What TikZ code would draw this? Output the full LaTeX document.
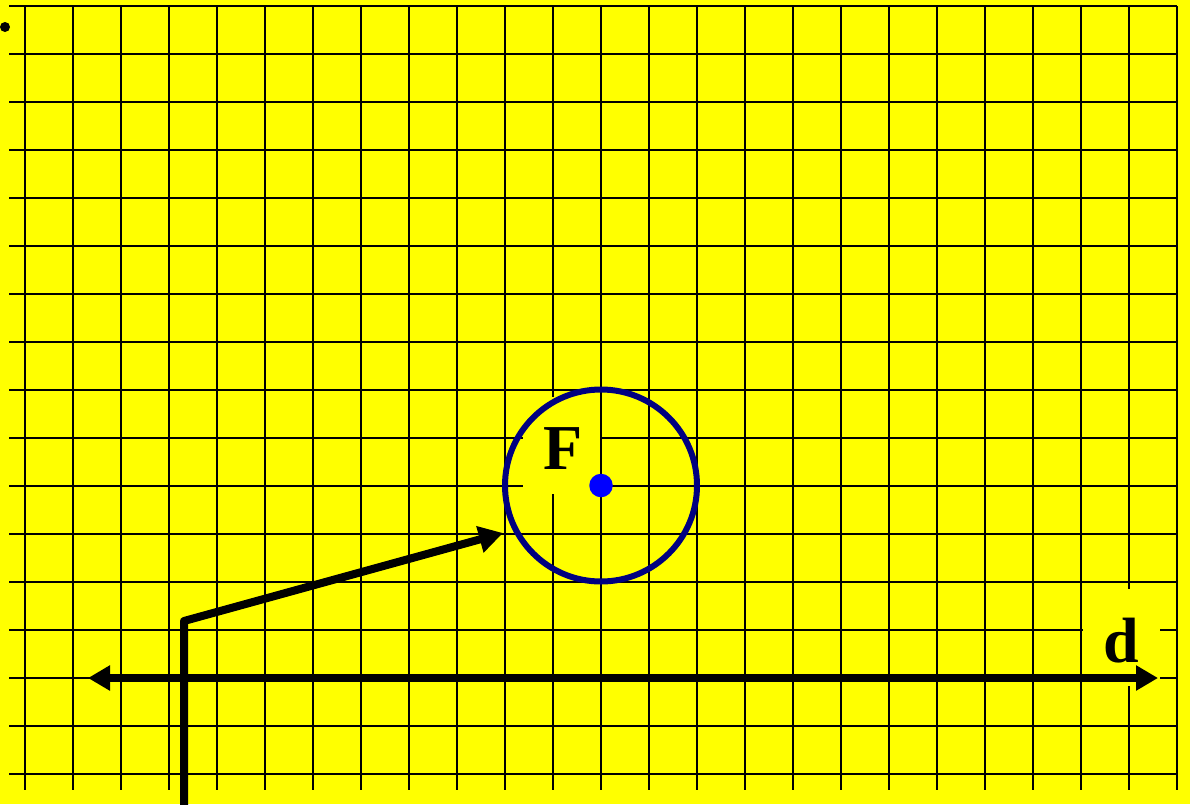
\documentclass[tikz,border=0pt]{standalone}
\usepackage{fontspec}
\setmainfont{Liberation Serif}
\usetikzlibrary{arrows.meta}
\definecolor{bgyellow}{RGB}{255,255,0}
\definecolor{ringblue}{RGB}{0,0,128}
\definecolor{dotblue}{RGB}{0,0,255}
\tikzset{
  gridline/.style={line width=2pt, black},
  labelbox/.style={fill=bgyellow, inner sep=0pt, minimum width=77pt, minimum height=97pt},
  labeltext/.style={inner sep=0pt, font=\fontsize{64}{64}\selectfont\bfseries},
  axisline/.style={line width=7.5pt, black, {Triangle[length=22pt,width=24pt]}-{Triangle[length=22pt,width=24pt]}},
  forceline/.style={line width=8pt, black, line join=round, -{Triangle[length=24pt,width=26pt]}},
}
\begin{document}
\begin{tikzpicture}[x=1pt,y=-1pt]
\useasboundingbox[fill=bgyellow] (0,0) rectangle (1190,804);
% grid
\foreach \j in {0,...,16}{
  \draw[gridline] (9,{6+48*\j}) -- (1177,{6+48*\j});
}
\foreach \k in {0,...,24}{
  \draw[gridline] ({25+48*\k},6) -- ({25+48*\k},790);
}
% small dot
\fill[black] (5,27) circle (5);
% label boxes and labels
\node[labelbox] (Fbox) at (561.5,445.5) {};
\node[labelbox] (dbox) at (1121,637.5) {};
\node[labeltext] (F) at (563.5,448.5) {F};
\node[labeltext] (d) at (1121.5,640.5) {d};
% ring and centre
\draw[ringblue, line width=6pt] (601,485.5) circle (96);
\node[circle, fill=dotblue, inner sep=0pt, minimum size=23.5pt] (centre) at (601,485.5) {};
% axis
\coordinate (dl) at (88,678);
\coordinate (dr) at (1158,678);
\draw[axisline] (dl) -- (dr);
% force path
\coordinate (bottom) at (184,810);
\coordinate (corner) at (184,621);
\coordinate (tip) at (503,533);
\draw[forceline] (bottom) -- (corner) -- (tip);
\end{tikzpicture}
\end{document}
